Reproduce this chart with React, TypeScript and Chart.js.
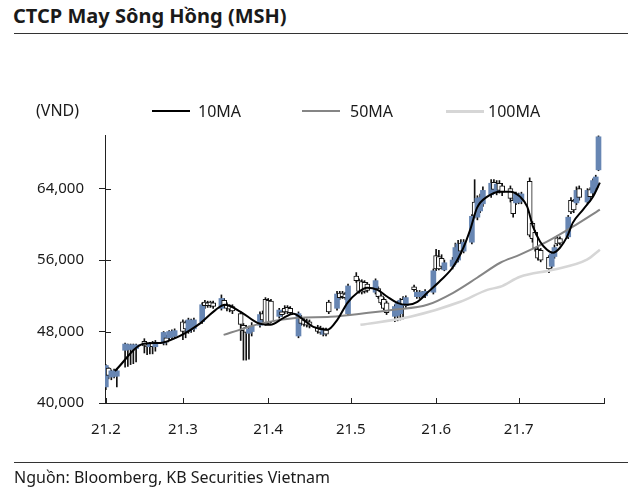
import React, { useEffect, useRef } from 'react';
import { Chart, registerables } from 'chart.js';

Chart.register(...registerables);

const FONT = '"Noto Sans", "Open Sans", sans-serif';
const TEXT = '#1a1a1a';
const AXIS = '#222222';
const UP = '#6786b3';
const DOWN_FILL = '#ffffff';

// Trading days, as day offsets from 2021-02-01 (x axis is a calendar-day axis)
const days = [
  0, 1, 2, 3, 4, 7, 8, 9, 10, 11, 14, 15, 16, 17, 18, 21, 22, 23, 24, 25,
  28, 29, 30, 31, 32, 35, 36, 37, 38, 39, 42, 43, 44, 45, 46, 49, 50, 51, 52, 53,
  56, 57, 58, 59, 60, 63, 64, 65, 66, 67, 70, 71, 72, 73, 74, 77, 78, 79, 80, 81,
  84, 85, 86, 87, 88, 91, 92, 93, 94, 95, 98, 99, 100, 101, 102, 105, 106, 107, 108, 109,
  112, 113, 114, 115, 116, 119, 120, 121, 122, 123, 126, 127, 128, 129, 130,
  133, 134, 135, 136, 137, 140, 141, 142, 143, 144, 147, 148, 149, 150, 151,
  154, 155, 156, 157, 158, 161, 162, 163, 164, 165, 168, 169, 170, 171, 172,
  175, 176, 177, 178, 179,
];

const openP = [
  41800, 43900, 42900, 43000, 43000, 45900, 46000, 46000, 46100, 46100,
  46900, 46500, 46300, 46700, 46300, 46700, 47300, 47300, 47400, 47500,
  49100, 49000, 48000, 48200, 48300, 49100, 51300, 51200, 51300, 51200,
  50600, 51500, 51000, 50900, 50800, 50000, 48700, 48500, 47800, 48000,
  48700, 50000, 51600, 51500, 51400, 49700, 50200, 50600, 50700, 50600,
  47500, 49600, 49300, 49200, 49100, 48500, 48400, 47700, 48200, 51300,
  50600, 52300, 52300, 52200, 50000, 54200, 53700, 53600, 53500, 53300,
  52400, 52800, 52000, 51600, 51200, 49700, 49800, 50000, 51600, 50900,
  53000, 51900, 51900, 52000, 52000, 52400, 56500, 56400, 56200, 54900,
  55300, 55700, 56000, 57900, 57000, 58000, 62500, 60800, 61500, 62300,
  63300, 64700, 63600, 64600, 64300, 64000, 62700, 62400, 62500, 62600,
  64800, 60100, 59100, 57200, 57100, 56300, 55300, 56400, 58500, 58400,
  58600, 62700, 62600, 62400, 64000, 62500, 63900, 63500, 64100, 66100,
];

const highP = [
  44300, 44000, 43700, 43800, 43800, 46700, 46600, 46600, 46600, 46600,
  47200, 46700, 46800, 46900, 47000, 48000, 47600, 48100, 48200, 48300,
  49300, 49200, 49500, 49400, 49500, 51200, 51500, 51400, 51400, 51400,
  52100, 51700, 51200, 51000, 51000, 50200, 48900, 48700, 48600, 49000,
  50200, 50300, 51800, 51700, 51600, 50600, 50400, 50900, 50900, 50800,
  50200, 49800, 49500, 49400, 49300, 48700, 48600, 48400, 48400, 51500,
  52500, 52500, 52500, 52400, 53300, 54600, 53900, 53800, 53700, 53500,
  53900, 53000, 52200, 51800, 51400, 51000, 51400, 51700, 51900, 52000,
  53200, 52600, 52600, 52500, 52700, 55000, 57200, 57100, 56600, 56000,
  56300, 57900, 58200, 58300, 58300, 61100, 65000, 63200, 63400, 64200,
  65000, 65000, 64900, 64900, 64600, 64300, 62900, 63600, 63500, 63600,
  65200, 60300, 59300, 57400, 57300, 56500, 56900, 57700, 58700, 58600,
  61000, 63000, 62800, 64200, 64300, 64000, 64100, 65100, 65500, 69900,
];

const lowP = [
  41500, 42700, 42600, 42800, 41800, 44000, 44100, 44300, 44400, 44600,
  45600, 45400, 45500, 45500, 45800, 46500, 46500, 47000, 47200, 47300,
  47100, 47300, 47800, 47900, 48000, 48900, 50600, 50700, 50700, 50600,
  50400, 50700, 50300, 50200, 50000, 47000, 44800, 44800, 44900, 47500,
  48500, 49000, 48700, 48800, 49000, 49500, 49700, 50000, 50000, 49900,
  47300, 48700, 48600, 48500, 48400, 47800, 47700, 47500, 47500, 50000,
  50400, 51600, 51700, 51600, 49800, 53500, 52300, 52200, 52300, 52400,
  52200, 51700, 51000, 50400, 49900, 49100, 49200, 49300, 49400, 50700,
  52500, 51700, 51700, 51800, 51800, 52200, 54800, 54900, 55000, 54800,
  55000, 55500, 55800, 56700, 56800, 57800, 60700, 60500, 61300, 62000,
  63000, 63500, 63300, 63500, 63200, 62500, 60800, 62200, 62300, 62300,
  58600, 58000, 57000, 56000, 55800, 54600, 55100, 56200, 57600, 57700,
  58400, 61200, 61300, 62200, 62700, 62300, 62600, 63300, 63900, 66000,
];

const closeP = [
  44200, 43100, 43600, 43500, 43600, 46600, 46500, 46500, 46500, 46500,
  46400, 46300, 46600, 46300, 46800, 47900, 46800, 48000, 48000, 48100,
  48000, 48300, 49300, 49200, 49300, 51000, 50900, 50900, 50900, 50800,
  51700, 50900, 50600, 50500, 50300, 48800, 48100, 47900, 48300, 48600,
  49900, 49300, 48800, 48900, 49100, 50400, 49900, 50200, 50200, 50100,
  50000, 48900, 48800, 48700, 48600, 48000, 47900, 48200, 47700, 50200,
  52200, 51800, 51900, 51800, 53100, 53700, 52500, 52400, 52500, 52600,
  53700, 51900, 51200, 50600, 50100, 50800, 51200, 51500, 51000, 51800,
  52700, 52400, 52400, 52400, 52500, 54800, 55000, 55000, 55300, 55700,
  56000, 57400, 57800, 57000, 58000, 60900, 61000, 62900, 63000, 63800,
  64600, 63900, 64500, 63800, 63600, 62900, 61200, 63400, 63300, 63400,
  58800, 58400, 57300, 56200, 56000, 55000, 56700, 57400, 57800, 57900,
  60800, 61400, 61600, 63800, 63000, 63800, 63100, 64900, 65300, 69800,
];

// Moving averages (day offset, VND)
const ma10Days = [3.3, 13.8, 19.9, 25.4, 30.8, 34.5, 39.9, 43.2, 49, 55.1, 59.8, 64.6, 68.2, 71.8, 75.4, 80.5, 84.1, 87.8, 91.4, 95, 98.7, 102.3, 105.9, 109.5, 113.2, 116.8, 121.5, 126.2, 129.9, 132.4, 134.9, 138.6, 143.3, 146.9, 150.5, 153.1, 155.2, 157.8, 160.3, 162.5, 165, 167.6, 169.7, 173.4, 177, 179.5];
const ma10 = [43590, 46620, 46730, 47290, 48190, 48970, 50430, 50990, 50210, 48970, 48750, 49530, 49980, 49310, 48520, 48190, 49310, 51210, 52340, 52900, 52670, 51890, 51210, 50990, 51330, 52340, 53680, 55250, 57380, 59400, 61870, 63100, 63660, 63660, 63100, 61980, 59740, 58060, 57160, 56820, 57380, 58620, 60190, 61650, 63100, 64670];

const ma50Days = [42.8, 50.8, 57.3, 69.6, 81.6, 95.4, 104.5, 116.8, 126.2, 134.9, 143.3, 150.5, 160.3, 169.7, 179.5];
const ma50 = [47630, 48410, 48970, 49530, 49650, 50090, 50430, 50990, 52340, 54020, 55700, 56600, 58060, 59740, 61650];

const ma100Days = [92.5, 110.6, 128.8, 138.6, 143.3, 150.5, 162.5, 174.8, 179.5];
const ma100 = [48750, 49650, 51330, 52670, 53010, 54130, 54920, 56040, 57160];

// Axis ticks
const monthTicks = [0, 28, 59, 89, 120, 150, 181];
const monthLabels = ['21.2', '21.3', '21.4', '21.5', '21.6', '21.7', ''];
const yTicks = [40000, 48000, 56000, 64000];

const innerTicks = {
  id: 'innerTicks',
  afterDraw(chart: any) {
    const { ctx, chartArea } = chart;
    const x = chart.scales.x;
    const y = chart.scales.y;
    ctx.save();
    ctx.strokeStyle = AXIS;
    ctx.lineWidth = 1;
    ctx.beginPath();
    y.ticks.forEach((t: any) => {
      const py = Math.round(y.getPixelForValue(t.value)) + 0.5;
      ctx.moveTo(chartArea.left, py);
      ctx.lineTo(chartArea.left + 6, py);
    });
    x.ticks.forEach((t: any) => {
      const px = Math.round(x.getPixelForValue(t.value)) + 0.5;
      ctx.moveTo(px, chartArea.bottom);
      ctx.lineTo(px, chartArea.bottom - 5);
    });
    ctx.stroke();
    ctx.restore();
  },
};

function CandleChart() {
  const ref = useRef<HTMLCanvasElement | null>(null);

  useEffect(() => {
    if (!ref.current) return;
    const isUp = days.map((_, i) => closeP[i] >= openP[i]);
    const chart = new Chart(ref.current, {
      type: 'bar',
      data: {
        datasets: [
          {
            type: 'line',
            label: '10MA',
            data: ma10Days.map((d, i) => ({ x: d, y: ma10[i] })),
            borderColor: '#000000',
            borderWidth: 2,
            pointRadius: 0,
            cubicInterpolationMode: 'monotone',
            order: 0,
          } as any,
          {
            type: 'line',
            label: '50MA',
            data: ma50Days.map((d, i) => ({ x: d, y: ma50[i] })),
            borderColor: '#858585',
            borderWidth: 2,
            pointRadius: 0,
            cubicInterpolationMode: 'monotone',
            order: 0.2,
          } as any,
          {
            type: 'line',
            label: '100MA',
            data: ma100Days.map((d, i) => ({ x: d, y: ma100[i] })),
            borderColor: '#d6d6d6',
            borderWidth: 2.5,
            pointRadius: 0,
            cubicInterpolationMode: 'monotone',
            order: 0.3,
          } as any,
          {
            type: 'bar',
            label: 'body',
            data: days.map((d, i) => ({ x: d, y: [openP[i], closeP[i]] })),
            backgroundColor: isUp.map((u) => (u ? UP : DOWN_FILL)),
            borderColor: isUp.map((u) => (u ? UP : '#111111')),
            borderWidth: isUp.map((u) => (u ? 0 : 1)),
            borderSkipped: false,
            barThickness: 5,
            grouped: false,
            order: 2,
          } as any,
          {
            type: 'bar',
            label: 'wick',
            data: days.map((d, i) => ({ x: d, y: [lowP[i], highP[i]] })),
            backgroundColor: '#111111',
            borderWidth: 0,
            barThickness: 1,
            grouped: false,
            order: 3,
          } as any,
        ],
      },
      options: {
        responsive: false,
        animation: false,
        devicePixelRatio: 1,
        layout: { padding: { left: 0, right: 36, top: 135, bottom: 0 } },
        plugins: {
          legend: { display: false },
          tooltip: { enabled: false },
          title: { display: false },
        },
        scales: {
          x: {
            type: 'linear',
            min: -0.3,
            max: 181,
            offset: false,
            afterBuildTicks: (s: any) => {
              s.ticks = monthTicks.map((v) => ({ value: v }));
            },
            afterFit: (s: any) => {
              s.height = 92;
            },
            ticks: {
              autoSkip: false,
              maxRotation: 0,
              padding: 18,
              color: TEXT,
              font: { family: FONT, size: 15 },
              callback: (v: any, i: number) => monthLabels[i],
            },
            grid: { display: false, drawTicks: false, drawOnChartArea: false },
            border: { display: true, color: AXIS, width: 1 },
          },
          y: {
            type: 'linear',
            min: 40000,
            max: 70000,
            afterBuildTicks: (s: any) => {
              s.ticks = yTicks.map((v) => ({ value: v }));
            },
            afterFit: (s: any) => {
              s.width = 105;
            },
            ticks: {
              padding: 15,
              color: TEXT,
              font: { family: FONT, size: 15 },
              callback: (v: any) => Number(v).toLocaleString('en-US'),
            },
            grid: { display: true, drawOnChartArea: false, drawTicks: true, tickLength: 6, color: AXIS },
            border: { display: true, color: AXIS, width: 1 },
          },
        },
      } as any,
      plugins: [innerTicks],
    });
    return () => chart.destroy();
  }, []);

  return (
    <canvas
      ref={ref}
      width={640}
      height={495}
      style={{ position: 'absolute', left: 0, top: 0, width: 640, height: 495 }}
    />
  );
}

const legendItems = [
  { label: '10MA', color: '#000000', width: 2.5, lineLeft: 152, textLeft: 198 },
  { label: '50MA', color: '#858585', width: 2.5, lineLeft: 302, textLeft: 350 },
  { label: '100MA', color: '#d6d6d6', width: 3, lineLeft: 446, textLeft: 488 },
];

export default function App() {
  useEffect(() => {
    document.body.style.margin = '0';
  }, []);

  return (
    <div style={{ position: 'relative', width: 640, height: 495, background: '#fff', overflow: 'hidden', fontFamily: FONT, color: TEXT }}>
      <div style={{ position: 'absolute', left: 13, top: 2, fontSize: 20, fontWeight: 700, whiteSpace: 'nowrap', lineHeight: '28px' }}>
        CTCP May Sông Hồng (MSH)
      </div>
      <div style={{ position: 'absolute', left: 14, top: 33, width: 614, height: 1, background: '#333' }} />
      <CandleChart />
      <div style={{ position: 'absolute', left: 36, top: 99, fontSize: 16, lineHeight: '22px', whiteSpace: 'nowrap' }}>(VND)</div>
      {legendItems.map((it) => (
        <React.Fragment key={it.label}>
          <div style={{ position: 'absolute', left: it.lineLeft, top: 111 - it.width / 2, width: 38, height: it.width, background: it.color }} />
          <div style={{ position: 'absolute', left: it.textLeft, top: 100, fontSize: 16, lineHeight: '22px', whiteSpace: 'nowrap' }}>{it.label}</div>
        </React.Fragment>
      ))}
      <div style={{ position: 'absolute', left: 14, top: 462, width: 614, height: 1, background: '#333' }} />
      <div style={{ position: 'absolute', left: 14, top: 466, fontSize: 16, lineHeight: '22px', whiteSpace: 'nowrap' }}>
        Nguồn: Bloomberg, KB Securities Vietnam
      </div>
    </div>
  );
}
